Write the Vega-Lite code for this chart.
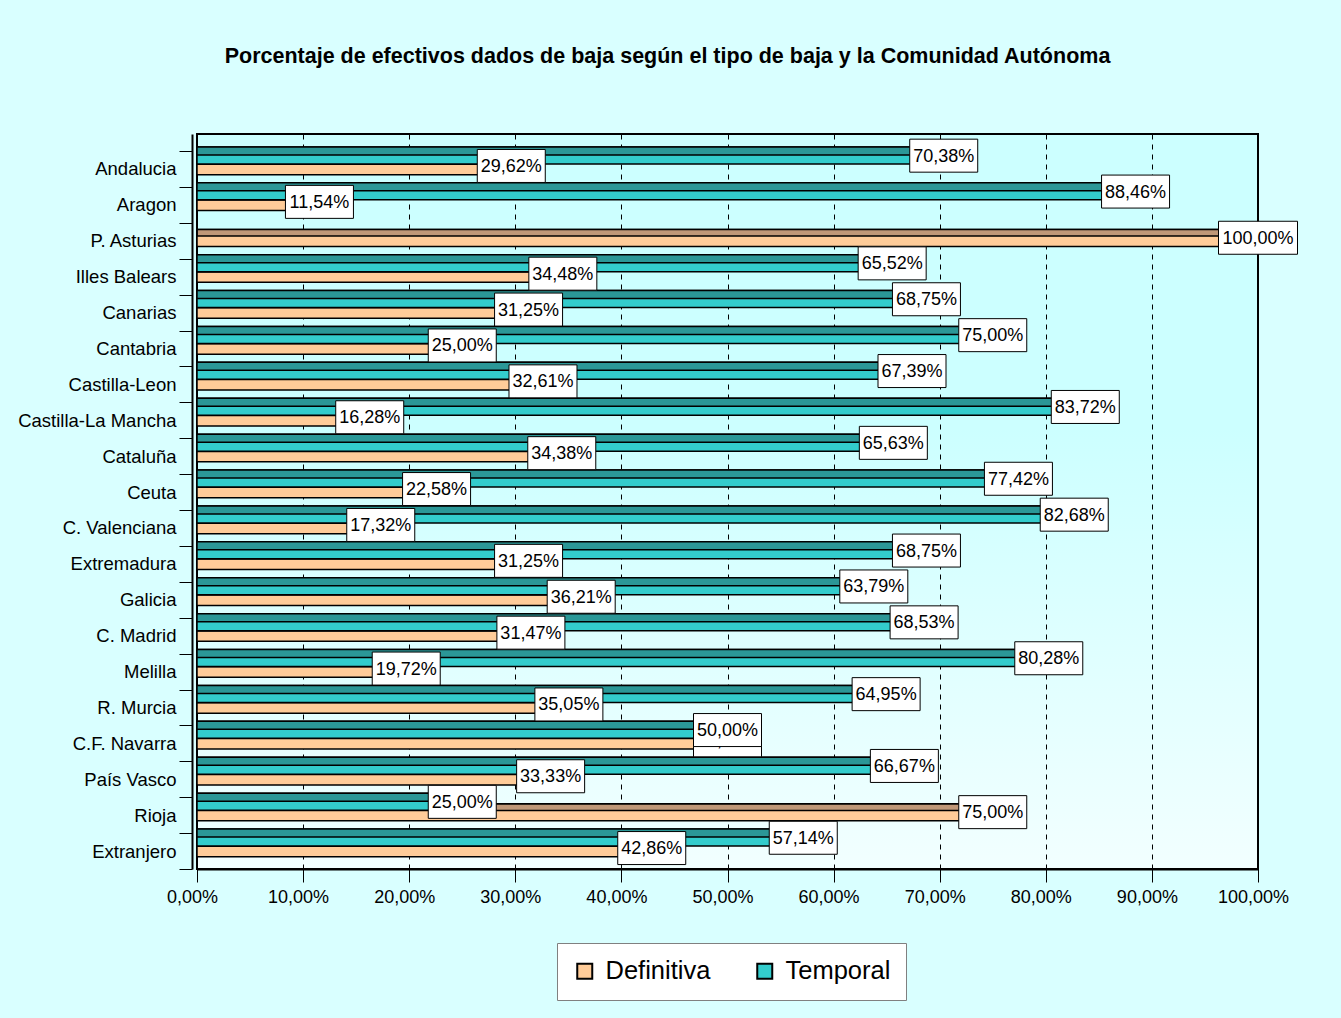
{
  "$schema": "https://vega.github.io/schema/vega-lite/v6.json",
  "width": 1061,
  "height": 735,
  "autosize": {"type": "none"},
  "padding": {"left": 197, "top": 134, "right": 83, "bottom": 149},
  "background": "#D9FFFF",
  "title": {"text": "Porcentaje de efectivos dados de baja según el tipo de baja y la Comunidad Autónoma", "fontSize": 21.5, "fontWeight": "bold", "font": "Liberation Sans", "color": "black", "anchor": "middle", "frame": "group", "dx": -60, "offset": 58},
  "data": {"values": [
    {"region": "Andalucia", "tipo": "Temporal", "valor": 0.7038},
    {"region": "Andalucia", "tipo": "Definitiva", "valor": 0.2962},
    {"region": "Aragon", "tipo": "Temporal", "valor": 0.8846},
    {"region": "Aragon", "tipo": "Definitiva", "valor": 0.1154},
    {"region": "P. Asturias", "tipo": "Temporal", "valor": 0},
    {"region": "P. Asturias", "tipo": "Definitiva", "valor": 1.0},
    {"region": "Illes Balears", "tipo": "Temporal", "valor": 0.6552},
    {"region": "Illes Balears", "tipo": "Definitiva", "valor": 0.3448},
    {"region": "Canarias", "tipo": "Temporal", "valor": 0.6875},
    {"region": "Canarias", "tipo": "Definitiva", "valor": 0.3125},
    {"region": "Cantabria", "tipo": "Temporal", "valor": 0.75},
    {"region": "Cantabria", "tipo": "Definitiva", "valor": 0.25},
    {"region": "Castilla-Leon", "tipo": "Temporal", "valor": 0.6739},
    {"region": "Castilla-Leon", "tipo": "Definitiva", "valor": 0.3261},
    {"region": "Castilla-La Mancha", "tipo": "Temporal", "valor": 0.8372},
    {"region": "Castilla-La Mancha", "tipo": "Definitiva", "valor": 0.1628},
    {"region": "Cataluña", "tipo": "Temporal", "valor": 0.6563},
    {"region": "Cataluña", "tipo": "Definitiva", "valor": 0.3438},
    {"region": "Ceuta", "tipo": "Temporal", "valor": 0.7742},
    {"region": "Ceuta", "tipo": "Definitiva", "valor": 0.2258},
    {"region": "C. Valenciana", "tipo": "Temporal", "valor": 0.8268},
    {"region": "C. Valenciana", "tipo": "Definitiva", "valor": 0.1732},
    {"region": "Extremadura", "tipo": "Temporal", "valor": 0.6875},
    {"region": "Extremadura", "tipo": "Definitiva", "valor": 0.3125},
    {"region": "Galicia", "tipo": "Temporal", "valor": 0.6379},
    {"region": "Galicia", "tipo": "Definitiva", "valor": 0.3621},
    {"region": "C. Madrid", "tipo": "Temporal", "valor": 0.6853},
    {"region": "C. Madrid", "tipo": "Definitiva", "valor": 0.3147},
    {"region": "Melilla", "tipo": "Temporal", "valor": 0.8028},
    {"region": "Melilla", "tipo": "Definitiva", "valor": 0.1972},
    {"region": "R. Murcia", "tipo": "Temporal", "valor": 0.6495},
    {"region": "R. Murcia", "tipo": "Definitiva", "valor": 0.3505},
    {"region": "C.F. Navarra", "tipo": "Temporal", "valor": 0.5},
    {"region": "C.F. Navarra", "tipo": "Definitiva", "valor": 0.5},
    {"region": "País Vasco", "tipo": "Temporal", "valor": 0.6667},
    {"region": "País Vasco", "tipo": "Definitiva", "valor": 0.3333},
    {"region": "Rioja", "tipo": "Temporal", "valor": 0.25},
    {"region": "Rioja", "tipo": "Definitiva", "valor": 0.75},
    {"region": "Extranjero", "tipo": "Temporal", "valor": 0.5714},
    {"region": "Extranjero", "tipo": "Definitiva", "valor": 0.4286}
  ]},
  "encoding": {
    "x": {"field": "valor", "type": "quantitative", "scale": {"domain": [0, 1], "nice": false, "zero": true},
      "axis": {"title": null, "values": [0, 0.1, 0.2, 0.3, 0.4, 0.5, 0.6, 0.7, 0.8, 0.9, 1], "format": ".2%", "grid": true, "gridDash": [5, 5], "gridColor": "black", "gridWidth": 1, "gridOpacity": 1, "domainColor": "black", "domainWidth": 2, "tickColor": "black", "tickSize": 13, "tickWidth": 1, "labelFontSize": 18, "labelFont": "Liberation Sans", "labelColor": "black", "labelPadding": 6, "labelOffset": -5, "labelFlush": false, "labelOverlap": false}},
    "y": {"field": "region", "type": "nominal", "sort": null,
      "scale": {"domain": ["Andalucia", "Aragon", "P. Asturias", "Illes Balears", "Canarias", "Cantabria", "Castilla-Leon", "Castilla-La Mancha", "Cataluña", "Ceuta", "C. Valenciana", "Extremadura", "Galicia", "C. Madrid", "Melilla", "R. Murcia", "C.F. Navarra", "País Vasco", "Rioja", "Extranjero"], "paddingInner": 0, "paddingOuter": 0.237, "align": 1},
      "axis": {"title": null, "labelFontSize": 18.5, "labelFont": "Liberation Sans", "labelColor": "black", "tickSize": 13, "tickBand": "extent", "tickColor": "black", "tickWidth": 1, "offset": 5, "domainColor": "black", "domainWidth": 2, "labelPadding": 3, "grid": false}}
  },
  "layer": [
    {
      "transform": [{"filter": "datum.tipo === 'Definitiva'"}],
      "mark": {"type": "bar", "height": 17, "yOffset": -2.8, "stroke": "black", "strokeWidth": 1.5},
      "encoding": {"fill": {"field": "tipo", "type": "nominal", "scale": {"domain": ["Definitiva", "Temporal"], "range": ["#FFCC99", "#33CCCC"]},
        "legend": {"title": null, "orient": "none", "legendX": 360, "legendY": 809, "direction": "horizontal", "symbolType": "square", "symbolSize": 225, "symbolStrokeColor": "black", "symbolStrokeWidth": 2, "labelFontSize": 25.5, "labelFont": "Liberation Sans", "labelColor": "black", "labelOffset": 8, "columnPadding": 41, "padding": 15, "fillColor": "white", "strokeColor": "#808080"}}}
    },
    {
      "transform": [{"filter": "datum.tipo === 'Definitiva'"}],
      "mark": {"type": "bar", "height": 6.5, "yOffset": -8, "fill": "#C09878", "stroke": "black", "strokeWidth": 1.5}
    },
    {
      "transform": [{"filter": "datum.tipo === 'Temporal'"}],
      "mark": {"type": "bar", "height": 17, "yOffset": -13.5, "stroke": "black", "strokeWidth": 1.5},
      "encoding": {"fill": {"field": "tipo", "type": "nominal"}}
    },
    {
      "transform": [{"filter": "datum.tipo === 'Temporal'"}],
      "mark": {"type": "bar", "height": 8, "yOffset": -18, "fill": "#2B9797", "stroke": "black", "strokeWidth": 1.5}
    },
    {
      "transform": [{"filter": "datum.tipo === 'Definitiva' && datum.valor > 0"}],
      "mark": {"type": "point", "size": 4, "filled": true, "fill": "white", "stroke": "black", "strokeWidth": 1, "opacity": 1, "yOffset": -3},
      "encoding": {"shape": {"condition": {"test": "datum.valor >= 1", "value": "M-39.5,-16.5H39.5V16.5H-39.5Z"}, "value": "M-34,-16.5H34V16.5H-34Z"}}
    },
    {
      "transform": [{"filter": "datum.tipo === 'Definitiva' && datum.valor > 0"}],
      "mark": {"type": "text", "font": "Liberation Sans", "fontSize": 18, "color": "black", "align": "center", "baseline": "middle", "yOffset": -2},
      "encoding": {"text": {"field": "valor", "type": "quantitative", "format": ".2%"}}
    },
    {
      "transform": [{"filter": "datum.tipo === 'Temporal' && datum.valor > 0"}],
      "mark": {"type": "point", "size": 4, "filled": true, "fill": "white", "stroke": "black", "strokeWidth": 1, "opacity": 1, "yOffset": -13.3},
      "encoding": {"shape": {"condition": {"test": "datum.valor >= 1", "value": "M-39.5,-16.5H39.5V16.5H-39.5Z"}, "value": "M-34,-16.5H34V16.5H-34Z"}}
    },
    {
      "transform": [{"filter": "datum.tipo === 'Temporal' && datum.valor > 0"}],
      "mark": {"type": "text", "font": "Liberation Sans", "fontSize": 18, "color": "black", "align": "center", "baseline": "middle", "yOffset": -12.3},
      "encoding": {"text": {"field": "valor", "type": "quantitative", "format": ".2%"}}
    }
  ],
  "config": {
    "locale": {"number": {"decimal": ",", "thousands": ".", "grouping": [3], "currency": ["", " €"]}},
    "view": {"stroke": "black", "strokeWidth": 2, "fill": {"gradient": "linear", "x1": 0, "y1": 0, "x2": 0, "y2": 1, "stops": [{"offset": 0, "color": "#CCFFFF"}, {"offset": 0.4, "color": "#CCFFFF"}, {"offset": 1, "color": "#F2FFFF"}]}},
    "font": "Liberation Sans"
  }
}
